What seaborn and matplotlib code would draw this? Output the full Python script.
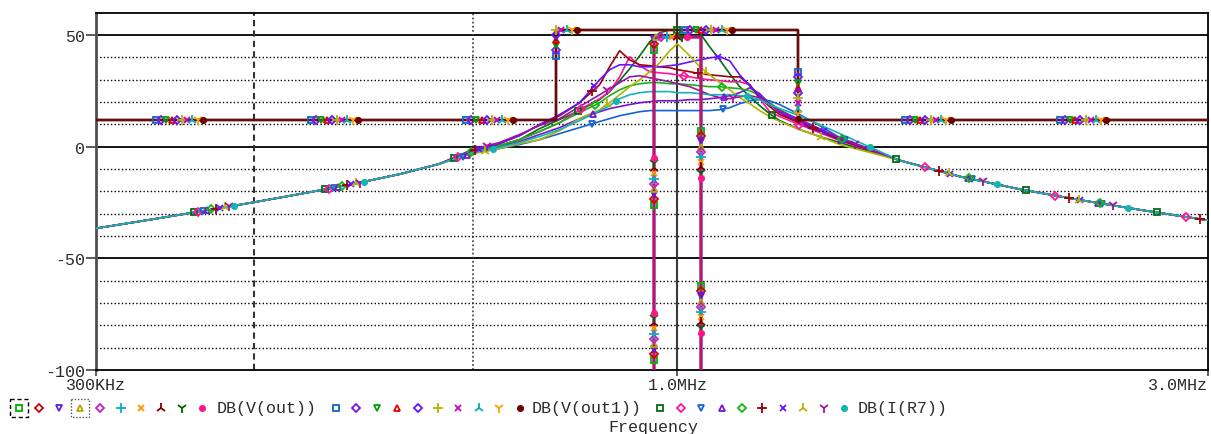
import numpy as np
import pandas as pd
import matplotlib
matplotlib.use("Agg")
import matplotlib.pyplot as plt
import seaborn as sns
from matplotlib.patches import Rectangle

W, H = 1211, 435

# ---------------- data: frequency in kHz, magnitude in dB ----------------
# DB(I(R7)) : skirts shared by every parameter step
SKIRT_LO_KHZ = [300.0, 334.8, 371.4, 415.3, 456.9, 506.8, 562.1, 610.5]
SKIRT_LO_DB = [-36.6, -32.8, -29.1, -25.0, -21.3, -17.1, -12.4, -7.8]
SKIRT_HI_KHZ = [1584.7, 1794.5, 2031.8, 2300.7, 2605.0, 3000.0]
SKIRT_HI_DB = [-6.2, -13.4, -19.1, -23.9, -28.3, -33.0]

# DB(I(R7)) : passband sweep points and one response per parameter step
MID_KHZ = [654.0, 691.5, 721.0, 751.6, 783.4, 816.6, 851.2, 869.0, 887.2, 905.8,
           924.8, 944.2, 963.9, 984.2, 1000.0, 1025.9, 1047.3, 1069.2, 1091.5,
           1114.3, 1137.6, 1161.4, 1185.7, 1210.5, 1235.8, 1288.1, 1342.5, 1399.4]
IR7_STEP1 = [-2.2, 0.4, 3.1, 8.0, 12.1, 16.1, 21.0, 24.6, 29.5, 34.8, 40.6, 46.9, 50.9, 52.2,
             52.2, 52.2, 50.9, 44.6, 38.8, 32.6, 26.8, 22.3, 18.3, 14.7, 11.6, 7.6, 4.5, 1.8]
IR7_STEP2 = [-2.2, 0.4, 3.1, 6.7, 10.7, 16.5, 21.4, 24.6, 31.2, 40.2, 36.2, 33.5, 33.0, 32.6,
             32.1, 31.2, 30.4, 29.9, 29.5, 29.0, 29.0, 27.7, 21.4, 15.6, 13.4, 9.8, 6.2, 2.7]
IR7_STEP3 = [-3.1, -0.9, 0.9, 3.1, 5.8, 8.5, 11.2, 12.5, 13.8, 14.7, 15.6, 16.1, 16.1, 16.1,
             16.1, 16.1, 16.1, 16.1, 16.5, 17.4, 19.2, 20.5, 21.0, 20.5, 18.8, 14.3, 9.4, 4.0]
IR7_STEP4 = [-2.7, 0.0, 2.2, 5.4, 8.5, 12.5, 15.6, 17.0, 17.9, 18.8, 19.6, 20.1, 20.5, 20.5,
             20.5, 21.0, 21.0, 21.4, 21.9, 22.8, 24.1, 26.3, 23.7, 19.2, 15.2, 10.3, 6.7, 3.1]
IR7_STEP5 = [-2.2, 0.4, 3.1, 6.7, 10.7, 15.2, 19.6, 22.8, 25.4, 27.2, 28.1, 28.6, 28.6, 28.1,
             28.1, 27.7, 27.2, 26.8, 26.8, 26.3, 25.9, 25.0, 22.8, 19.6, 16.5, 11.6, 7.6, 3.6]
IR7_STEP6 = [-1.8, 1.3, 4.9, 9.8, 13.8, 19.6, 27.7, 35.7, 42.9, 38.8, 36.6, 36.2, 35.7, 35.3,
             34.4, 33.5, 32.6, 32.1, 31.7, 31.2, 31.2, 27.7, 21.9, 17.9, 14.3, 10.7, 7.1, 3.1]
IR7_STEP7 = [-1.8, 1.3, 4.9, 9.8, 14.3, 19.6, 29.9, 34.4, 36.6, 36.6, 35.7, 35.7, 35.7, 36.2,
             36.6, 37.9, 38.8, 39.7, 40.2, 38.4, 32.1, 27.2, 22.8, 19.2, 15.6, 11.2, 7.6, 3.6]
IR7_STEP8 = [-3.1, -0.9, 1.3, 3.1, 7.1, 12.5, 16.5, 19.6, 23.2, 26.8, 29.9, 33.5, 37.5, 42.9,
             46.0, 40.6, 35.7, 32.1, 28.6, 25.4, 21.9, 19.2, 16.1, 13.4, 11.2, 7.6, 4.5, 0.9]
IR7_STEP9 = [-1.3, 1.8, 5.4, 9.4, 12.5, 17.9, 23.2, 25.9, 28.6, 31.2, 31.7, 30.8, 29.9, 29.0,
             28.1, 26.8, 25.0, 23.2, 21.9, 21.4, 22.3, 22.8, 21.9, 18.8, 16.1, 12.1, 8.0, 4.0]
IR7_STEP10 = [-2.7, -0.4, 1.8, 4.5, 7.6, 11.6, 16.1, 18.3, 21.4, 23.2, 24.1, 24.6, 24.6, 24.6,
              24.1, 24.1, 23.7, 23.2, 23.2, 23.2, 22.8, 22.3, 21.0, 18.8, 17.0, 13.8, 9.8, 5.8]
IR7_STEPS = [IR7_STEP1, IR7_STEP2, IR7_STEP3, IR7_STEP4, IR7_STEP5,
             IR7_STEP6, IR7_STEP7, IR7_STEP8, IR7_STEP9, IR7_STEP10]

# DB(V(out)) : narrow brick-wall response (identical for all 10 steps)
VOUT_KHZ = [952.0, 952.0, 1050.5, 1050.5]
VOUT_DB = [-120.0, 49.2, 49.2, -120.0]
# DB(V(out1)) : wide brick-wall response (identical for all 10 steps)
VOUT1_KHZ = [300.0, 778.0, 778.0, 1283.0, 1283.0, 3000.0]
VOUT1_DB = [11.7, 11.7, 52.3, 52.3, 11.7, 11.7]

TRACE_NAMES = ["DB(V(out))", "DB(V(out1))", "DB(I(R7))"]

# axis ticks and grid
Y_TICKS = [50, 0, -50, -100]
Y_TICK_LABELS = ["50", "0", "-50", "-100"]
X_TICKS = [300, 1000, 3000]
X_TICK_LABELS = ["300KHz", "1.0MHz", "3.0MHz"]
GRID_SOLID_DB = [50, 0, -50]
GRID_DOT_DB = [40, 30, 20, 10, -10, -20, -30, -40, -60, -70, -80, -90]
GRID_V_KHZ = [416.5, 655.2, 1000.0]

# ---------------- styling ----------------
MARKERS = ['s', 'D', 'v', '^', 'D', '+', 'x', '2', '1', 'o']
COLORS_VOUT = ['#00b000', '#d00000', '#5a1ee6', '#b4a800', '#c81ec8',
               '#00b4c8', '#ff9600', '#800000', '#006400', '#ff148c']
COLORS_VOUT1 = ['#1464c8', '#7814e6', '#00a000', '#e00000', '#6414ff',
                '#b4b400', '#c800c8', '#00b4b4', '#ffa000', '#6e0000']
COLORS_IR7 = ['#006e14', '#ff14a0', '#1464d2', '#7814d2', '#14b414',
              '#a00000', '#6414ff', '#b4b400', '#a014a0', '#14b4b4']
LINE_VOUT = '#b01878'
LINE_VOUT1 = '#6a0c0c'

sns.set_theme(style="white")
plt.rcParams['font.family'] = ['Liberation Mono', 'DejaVu Sans Mono']
TEXT_COLOR = '#2a2a2a'


def marker_style(m, c):
    sizes = {'s': 5, 'D': 4, 'v': 5, '^': 5, '+': 6.5, 'x': 5, '2': 7.5, '1': 7.5, 'o': 3.8}
    hollow = m in ('s', 'D', 'v', '^')
    return dict(marker=m, ms=sizes[m], mec=c, mfc='none' if hollow else c,
                mew=1.3, color=c)


def arc_markers(ax, khz, db, first, step, style):
    """Put markers at equal path-length intervals along a drawn trace."""
    pts = ax.transData.transform(np.column_stack([khz, db]))
    seg = np.hypot(*np.diff(pts, axis=0).T)
    keep = np.concatenate([[True], seg > 0])
    pts = pts[keep]
    s = np.concatenate([[0.0], np.cumsum(seg[seg > 0])])
    where = np.arange(first, s[-1], step)
    xy = np.column_stack([np.interp(where, s, pts[:, 0]),
                          np.interp(where, s, pts[:, 1])])
    dx, dy = ax.transData.inverted().transform(xy).T
    ax.plot(dx, dy, ls='none', zorder=5, clip_on=True, **style)


fig = plt.figure(figsize=(W / 100, H / 100), dpi=100)
L, R, T, B = 96, 1208, 13.5, 371
ax = fig.add_axes([L / W, 1 - B / H, (R - L) / W, (B - T) / H])
ax.set_xscale('log')

# long-form tables for seaborn
ir7_khz = SKIRT_LO_KHZ + MID_KHZ + SKIRT_HI_KHZ
df_ir7 = pd.concat([pd.DataFrame({'khz': ir7_khz,
                                  'db': SKIRT_LO_DB + step + SKIRT_HI_DB,
                                  'trace': f'I{i}'})
                    for i, step in enumerate(IR7_STEPS)], ignore_index=True)
df_vout1 = pd.concat([pd.DataFrame({'khz': VOUT1_KHZ, 'db': VOUT1_DB, 'trace': f'B{i}'})
                      for i in range(10)], ignore_index=True)
df_vout = pd.concat([pd.DataFrame({'khz': VOUT_KHZ, 'db': VOUT_DB, 'trace': f'A{i}'})
                     for i in range(10)], ignore_index=True)

sns.lineplot(data=df_ir7, x='khz', y='db', hue='trace',
             palette={f'I{i}': c for i, c in enumerate(COLORS_IR7)},
             estimator=None, sort=False, legend=False, lw=1.2, ax=ax, zorder=3)
sns.lineplot(data=df_vout1, x='khz', y='db', hue='trace',
             palette={f'B{i}': LINE_VOUT1 for i in range(10)},
             estimator=None, sort=False, legend=False, lw=1.5, ax=ax, zorder=3.2)
sns.lineplot(data=df_vout, x='khz', y='db', hue='trace',
             palette={f'A{i}': LINE_VOUT for i in range(10)},
             estimator=None, sort=False, legend=False, lw=1.6, ax=ax, zorder=3.4)

ax.set_xlim(300, 3000)
ax.set_ylim(-100, 60)

# grid
for y in GRID_SOLID_DB:
    ax.axhline(y, color='black', lw=1.3, zorder=1)
for y in GRID_DOT_DB:
    ax.axhline(y, color='black', lw=1.0, ls=(0, (1, 1.6)), zorder=1)
ax.axvline(GRID_V_KHZ[0], color='#333333', lw=1.5, ls=(0, (3, 2)), zorder=1)
ax.axvline(GRID_V_KHZ[1], color='#333333', lw=1.1, ls=(0, (1.2, 1.5)), zorder=1)
ax.axvline(GRID_V_KHZ[2], color='#3a3a3a', lw=1.5, zorder=1)

# markers along every trace
for i in range(10):
    arc_markers(ax, ir7_khz, SKIRT_LO_DB + IR7_STEPS[i] + SKIRT_HI_DB,
                99 + 4.5 * i, 133, marker_style(MARKERS[i], COLORS_IR7[i]))
for i in range(10):
    arc_markers(ax, VOUT1_KHZ, VOUT1_DB, 60 + 5.2 * i, 155,
                marker_style(MARKERS[i], COLORS_VOUT1[i]))
for i in range(10):
    arc_markers(ax, VOUT_KHZ, VOUT_DB, 55 + 5.2 * i, 155,
                marker_style(MARKERS[i], COLORS_VOUT[i]))

# axes frame and ticks
for side in ('top', 'right', 'bottom'):
    ax.spines[side].set_color('black')
    ax.spines[side].set_linewidth(1.3)
ax.spines['left'].set_color('#505050')
ax.spines['left'].set_linewidth(2.0)
ax.set_yticks(Y_TICKS)
ax.set_yticklabels(Y_TICK_LABELS)
ax.xaxis.set_minor_locator(matplotlib.ticker.NullLocator())
ax.set_xticks(X_TICKS)
ax.set_xticklabels(X_TICK_LABELS)
ax.tick_params(axis='y', which='major', left=True, length=7, width=1.2,
               color='#404040', labelsize=12, labelcolor=TEXT_COLOR, pad=1)
ax.tick_params(axis='x', which='major', bottom=True, length=4, width=1.2,
               color='#404040', labelsize=12, labelcolor=TEXT_COLOR, pad=1)
ax.get_xticklabels()[-1].set_horizontalalignment('right')
ax.get_xticklabels()[-1].set_x(3000)
ax.set_xlabel('')
ax.set_ylabel('')

# legend row drawn in figure pixels
lax = fig.add_axes([0, 0, 1, 1])
lax.set_xlim(0, W)
lax.set_ylim(H, 0)
lax.axis('off')
legend_groups = [(18.6, COLORS_VOUT, 217), (336.0, COLORS_VOUT1, 532), (660.4, COLORS_IR7, 858)]
LEG_Y = 409
for (x0, cols, tx), name in zip(legend_groups, TRACE_NAMES):
    for i in range(10):
        lax.plot([x0 + 20.4 * i], [LEG_Y], ls='none', **marker_style(MARKERS[i], cols[i]))
    lax.text(tx, LEG_Y, name, ha='left', va='center', fontsize=12, color=TEXT_COLOR)
lax.add_patch(Rectangle((18.6 - 9, LEG_Y - 9), 18, 18, fill=False, ec='black',
                        lw=1.0, ls=(0, (3, 2))))
lax.add_patch(Rectangle((18.6 + 20.4 * 3 - 9, LEG_Y - 9), 18, 18, fill=False,
                        ec='#555555', lw=1.0, ls=(0, (1, 1.3))))
lax.text(653, 428, 'Frequency', ha='center', va='center', fontsize=12, color=TEXT_COLOR)

fig.savefig('out.png', dpi=100, facecolor='white')
